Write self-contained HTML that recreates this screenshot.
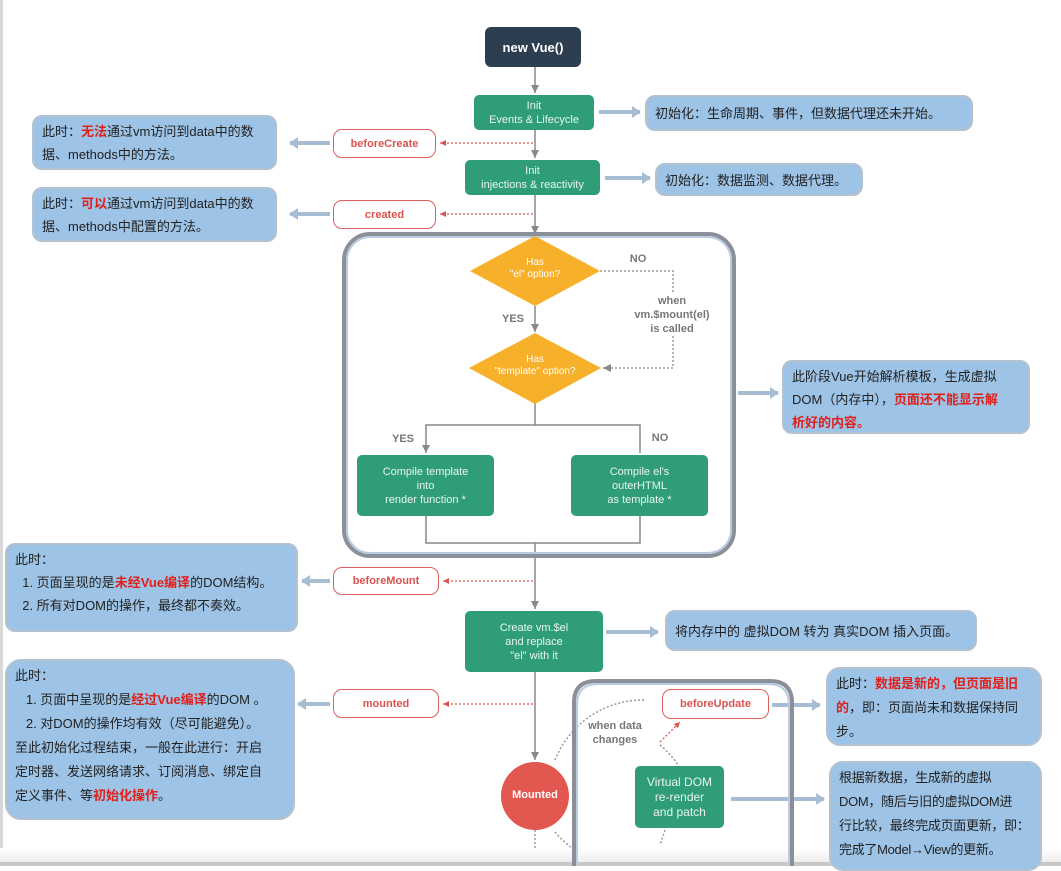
<!DOCTYPE html>
<html><head><meta charset="utf-8"><style>
body{margin:0;width:1061px;height:866px;overflow:hidden;background:#fff;position:relative;font-family:"Liberation Sans","Noto Sans CJK SC",sans-serif;}
.a{position:absolute;box-sizing:border-box;}
.g{background:#2f9e77;border-radius:5px;color:#e8f5ef;font-size:11px;text-align:center;display:flex;align-items:center;justify-content:center;line-height:14px;}
.p{background:#fff;border:1.5px solid #d9605a;border-radius:9px;color:#d9534f;font-weight:bold;font-size:11px;display:flex;align-items:center;justify-content:center;}
.n{background:#9dc3e6;border:2px solid #b4c2d0;border-radius:10px;color:#222;font-size:13px;line-height:26px;padding:3px 8px;}
.r{color:#e0201a;font-weight:bold;}
.t{position:absolute;color:#777;font-size:11px;font-weight:bold;text-align:center;line-height:14px;}
</style></head><body>
<div class="a" style="left:0;top:0;width:3px;height:866px;background:#d8d8d8"></div>
<div class="a" style="left:0;top:848px;width:1061px;height:18px;background:linear-gradient(#fff,#e8e8e8)"></div>
<div class="a" style="left:0;top:862px;width:1061px;height:4px;background:#c8c8c8"></div>
<svg class="a" style="left:0;top:0" width="1061" height="866">
<defs>
<marker id="ar" markerUnits="userSpaceOnUse" markerWidth="10" markerHeight="10" refX="8" refY="5" orient="auto"><path d="M0,1 L8,5 L0,9z" fill="#888"/></marker>
<marker id="rr" markerUnits="userSpaceOnUse" markerWidth="8" markerHeight="8" refX="6" refY="4" orient="auto"><path d="M0,1 L6,4 L0,7z" fill="#d9534f"/></marker>
<marker id="ba" markerUnits="userSpaceOnUse" markerWidth="10" markerHeight="12" refX="8" refY="6" orient="auto"><path d="M0,0 L9,6 L0,12z" fill="#a7bdd4"/></marker>
</defs>
<g stroke="#888" stroke-width="1.5" fill="none">
<line x1="535" y1="67" x2="535" y2="93" marker-end="url(#ar)"/>
<line x1="535" y1="130" x2="535" y2="158" marker-end="url(#ar)"/>
<line x1="535" y1="195" x2="535" y2="234" marker-end="url(#ar)"/>
<line x1="535" y1="306" x2="535" y2="332" marker-end="url(#ar)"/>
<polyline points="535,403 535,425 426,425 426,453" marker-end="url(#ar)"/>
<polyline points="535,425 640,425 640,453"/>
<polyline points="426,516 426,543 640,543 640,516"/>
<line x1="535" y1="543" x2="535" y2="609" marker-end="url(#ar)"/>
<line x1="535" y1="672" x2="535" y2="760" marker-end="url(#ar)"/>
</g>
<g stroke="#999" stroke-width="1.5" fill="none" stroke-dasharray="2,2">
<polyline points="600,271 673,271 673,292"/>
<polyline points="673,336 673,368 603,368" marker-end="url(#ar)"/>
<path d="M555,760 A95,95 0 0 1 645,700" />
<path d="M660,745 A95,95 0 0 1 680,768"/>
<path d="M555,832 A95,95 0 0 0 575,850"/>
<line x1="535" y1="830" x2="535" y2="850"/>
<path d="M665,830 L660,845"/>
</g>
<g stroke="#d9534f" stroke-width="1.3" fill="none" stroke-dasharray="2,2">
<line x1="533" y1="143" x2="440" y2="143" marker-end="url(#rr)"/>
<line x1="533" y1="214" x2="440" y2="214" marker-end="url(#rr)"/>
<line x1="533" y1="581" x2="443" y2="581" marker-end="url(#rr)"/>
<line x1="533" y1="704" x2="443" y2="704" marker-end="url(#rr)"/>
<line x1="660" y1="742" x2="680" y2="722" marker-end="url(#rr)"/>
</g>
<g stroke="#a7bdd4" stroke-width="4" fill="none">
<line x1="599" y1="112" x2="640" y2="112" marker-end="url(#ba)"/>
<line x1="605" y1="178" x2="650" y2="178" marker-end="url(#ba)"/>
<line x1="330" y1="143" x2="290" y2="143" marker-end="url(#ba)"/>
<line x1="330" y1="214" x2="290" y2="214" marker-end="url(#ba)"/>
<line x1="738" y1="393" x2="778" y2="393" marker-end="url(#ba)"/>
<line x1="330" y1="581" x2="302" y2="581" marker-end="url(#ba)"/>
<line x1="606" y1="632" x2="658" y2="632" marker-end="url(#ba)"/>
<line x1="330" y1="704" x2="298" y2="704" marker-end="url(#ba)"/>
<line x1="772" y1="705" x2="820" y2="705" marker-end="url(#ba)"/>
<line x1="731" y1="799" x2="824" y2="799" marker-end="url(#ba)"/>
</g>
<rect x="344" y="234" width="390" height="322" rx="26" fill="none" stroke="#8a8f98" stroke-width="4"/>
<rect x="347" y="237" width="384" height="316" rx="23" fill="none" stroke="#b9cbe0" stroke-width="2"/>
<path d="M574,866 L574,703 Q574,681 596,681 L770,681 Q792,681 792,703 L792,866" fill="none" stroke="#8a8f98" stroke-width="4"/>
<path d="M577,866 L577,705 Q577,684 598,684 L768,684 Q789,684 789,705 L789,866" fill="none" stroke="#b9cbe0" stroke-width="2"/>
<polygon points="535,236 600,271 535,306 470,271" fill="#f7b02a"/>
<polygon points="535,333 601,368 535,404 469,368" fill="#f7b02a"/>
<circle cx="535" cy="796" r="34" fill="#e2574f"/>
</svg>
<div class="a" style="left:485px;top:27px;width:96px;height:40px;background:#2d3e50;border-radius:6px;color:#fff;font-weight:bold;font-size:13px;display:flex;align-items:center;justify-content:center">new Vue()</div>
<div class="a g" style="left:474px;top:95px;width:120px;height:35px">Init<br>Events &amp; Lifecycle</div>
<div class="a g" style="left:465px;top:160px;width:135px;height:35px">Init<br>injections &amp; reactivity</div>
<div class="a t" style="left:470px;top:257px;width:130px;color:#fff;font-weight:normal;font-size:10px;line-height:12px">Has<br>"el" option?</div>
<div class="a t" style="left:470px;top:354px;width:130px;color:#fff;font-weight:normal;font-size:10px;line-height:12px">Has<br>"template" option?</div>
<div class="t" style="left:626px;top:252px;width:24px">NO</div>
<div class="t" style="left:622px;top:294px;width:100px">when<br>vm.$mount(el)<br>is called</div>
<div class="t" style="left:498px;top:312px;width:30px">YES</div>
<div class="t" style="left:388px;top:432px;width:30px">YES</div>
<div class="t" style="left:648px;top:431px;width:24px">NO</div>
<div class="a g" style="left:357px;top:455px;width:137px;height:61px">Compile template<br>into<br>render function *</div>
<div class="a g" style="left:571px;top:455px;width:137px;height:61px">Compile el's<br>outerHTML<br>as template *</div>
<div class="a g" style="left:465px;top:611px;width:138px;height:61px">Create vm.$el<br>and replace<br>"el" with it</div>
<div class="a" style="left:501px;top:789px;width:68px;color:#fff;font-weight:bold;font-size:11px;text-align:center">Mounted</div>
<div class="t" style="left:575px;top:719px;width:80px">when data<br>changes</div>
<div class="a g" style="left:635px;top:766px;width:89px;height:62px;font-size:12px;line-height:15px">Virtual DOM<br>re-render<br>and patch</div>
<div class="a p" style="left:333px;top:129px;width:103px;height:29px">beforeCreate</div>
<div class="a p" style="left:333px;top:200px;width:103px;height:29px">created</div>
<div class="a p" style="left:333px;top:567px;width:106px;height:28px">beforeMount</div>
<div class="a p" style="left:333px;top:689px;width:106px;height:29px">mounted</div>
<div class="a p" style="left:662px;top:689px;width:107px;height:30px">beforeUpdate</div>
<div class="a n" style="left:32px;top:115px;width:245px;height:55px;line-height:23px">此时：<span class="r">无法</span>通过vm访问到data中的数<br>据、methods中的方法。</div>
<div class="a n" style="left:32px;top:187px;width:245px;height:55px;line-height:23px">此时：<span class="r">可以</span>通过vm访问到data中的数<br>据、methods中配置的方法。</div>
<div class="a n" style="left:645px;top:95px;width:328px;height:36px;line-height:28px">初始化：生命周期、事件，但数据代理还未开始。</div>
<div class="a n" style="left:655px;top:163px;width:208px;height:33px;line-height:25px">初始化：数据监测、数据代理。</div>
<div class="a n" style="left:782px;top:360px;width:248px;height:74px;line-height:23px;white-space:nowrap">此阶段Vue开始解析模板，生成虚拟<br>DOM（内存中），<span class="r">页面还不能显示解<br>析好的内容。</span></div>
<div class="a n" style="left:5px;top:543px;width:293px;height:89px;line-height:23px">此时：<br>&nbsp;&nbsp;1. 页面呈现的是<span class="r">未经Vue编译</span>的DOM结构。<br>&nbsp;&nbsp;2. 所有对DOM的操作，最终都不奏效。</div>
<div class="a n" style="left:665px;top:610px;width:312px;height:41px;line-height:33px">将内存中的 虚拟DOM 转为 真实DOM 插入页面。</div>
<div class="a n" style="left:5px;top:659px;width:290px;height:161px;line-height:24px;border-radius:16px;white-space:nowrap">此时：<br>&nbsp;&nbsp;&nbsp;1. 页面中呈现的是<span class="r">经过Vue编译</span>的DOM 。<br>&nbsp;&nbsp;&nbsp;2. 对DOM的操作均有效（尽可能避免）。<br>至此初始化过程结束，一般在此进行：开启<br>定时器、发送网络请求、订阅消息、绑定自<br>定义事件、等<span class="r">初始化操作</span>。</div>
<div class="a n" style="left:826px;top:667px;width:216px;height:79px;line-height:24px;border-radius:14px;white-space:nowrap">此时：<span class="r">数据是新的，但页面是旧<br>的</span>，即：页面尚未和数据保持同<br>步。</div>
<div class="a n" style="left:829px;top:761px;width:213px;height:110px;line-height:24px;border-radius:14px;overflow:hidden;white-space:nowrap;letter-spacing:-0.3px">根据新数据，生成新的虚拟<br>DOM，随后与旧的虚拟DOM进<br>行比较，最终完成页面更新，即：<br>完成了Model→View的更新。</div>
</body></html>
